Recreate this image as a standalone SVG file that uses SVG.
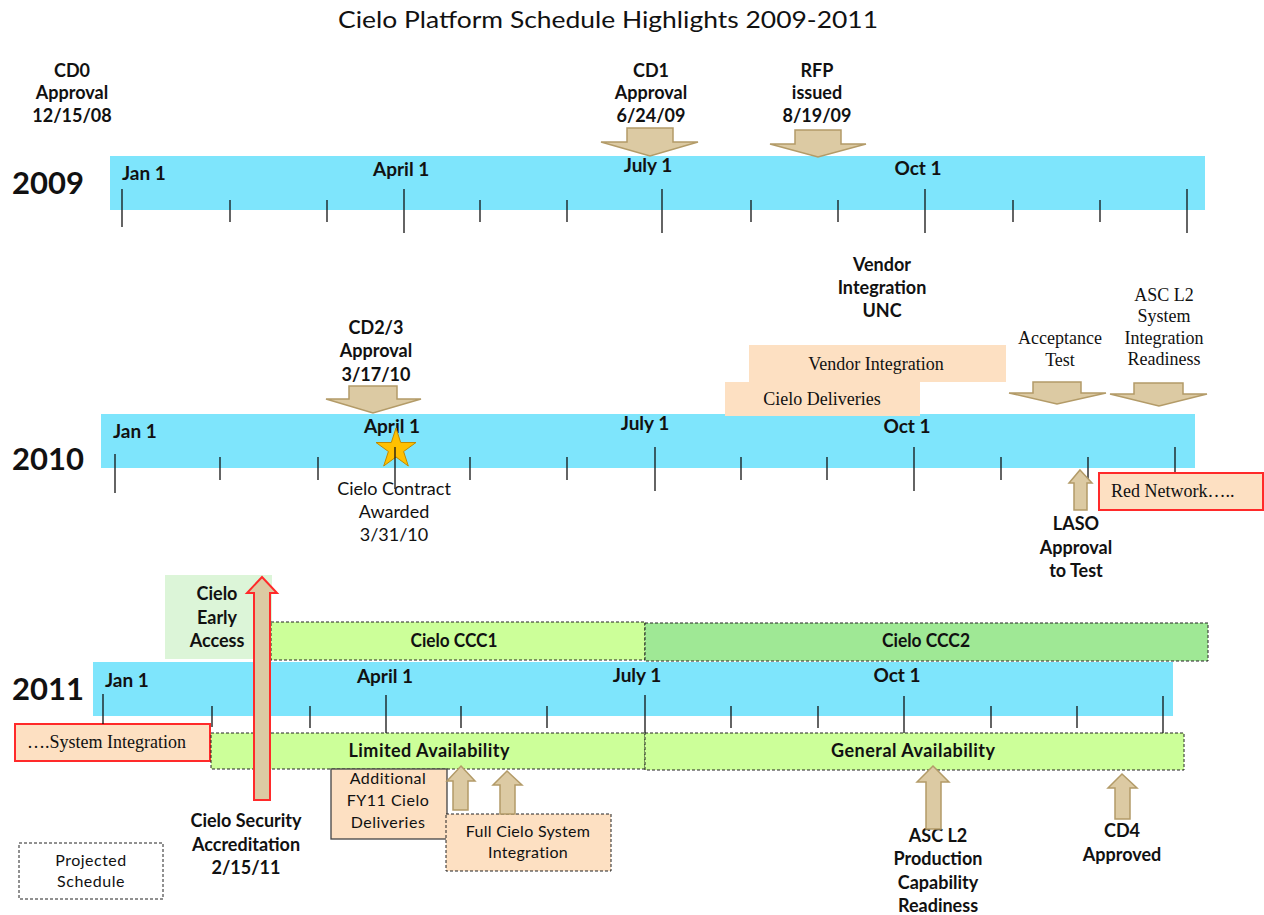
<svg xmlns="http://www.w3.org/2000/svg" width="1264" height="915" viewBox="0 0 1264 915">
<style>
.t{font-family:Lato,"Open Sans","Liberation Sans",sans-serif;fill:#111}
.b{font-weight:bold}
.s{font-family:"Liberation Serif","DejaVu Serif",serif;fill:#111;font-size:18px}
.year{font-size:31px;font-weight:bold}
.lbl{font-size:19px;font-weight:bold}
.bx{font-size:18px;font-weight:bold}
.ms{font-size:18px;font-weight:bold}
.bar{fill:#7ee5fc}
.tick{stroke:#111;stroke-width:1.3}
.arrow{fill:#dccaa3;stroke:#b39b68;stroke-width:1.5}
.peach{fill:#fde0c2}
.red{stroke:#ff2a2a;stroke-width:2}
.dash{stroke:#222;stroke-width:1;stroke-dasharray:3,2}
.lg{fill:#ccff99}
.dg{fill:#9fe895}
</style>

<text class="t" x="608" y="28" font-size="23" text-anchor="middle" textLength="540" lengthAdjust="spacingAndGlyphs">Cielo Platform Schedule Highlights 2009-2011</text>

<!-- 2009 -->
<g id="row2009">
<rect class="bar" x="110" y="156" width="1095" height="54"/>
<text class="t year" x="12" y="194">2009</text>
<text class="t lbl" x="122" y="180">Jan 1</text>
<text class="t lbl" x="373" y="176">April 1</text>
<text class="t lbl" x="648" y="172" text-anchor="middle">July 1</text>
<text class="t lbl" x="918" y="175" text-anchor="middle">Oct 1</text>
<g class="tick">
<line x1="122" y1="189" x2="122" y2="227"/>
<line x1="230" y1="200" x2="230" y2="222"/>
<line x1="327" y1="200" x2="327" y2="222"/>
<line x1="404" y1="189" x2="404" y2="233"/>
<line x1="480" y1="200" x2="480" y2="222"/>
<line x1="567" y1="200" x2="567" y2="222"/>
<line x1="662" y1="189" x2="662" y2="233"/>
<line x1="751" y1="200" x2="751" y2="222"/>
<line x1="838" y1="200" x2="838" y2="222"/>
<line x1="925" y1="189" x2="925" y2="233"/>
<line x1="1013" y1="200" x2="1013" y2="222"/>
<line x1="1100" y1="200" x2="1100" y2="222"/>
<line x1="1187" y1="189" x2="1187" y2="233"/>
</g>
</g>
<g id="cd0">
<text class="t ms" text-anchor="middle"><tspan x="72" y="77">CD0</tspan><tspan x="72" y="99">Approval</tspan><tspan x="72" y="122">12/15/08</tspan></text>
</g>
<g id="cd1">
<text class="t ms" text-anchor="middle"><tspan x="651" y="77">CD1</tspan><tspan x="651" y="99">Approval</tspan><tspan x="651" y="122">6/24/09</tspan></text>
</g>
<g id="rfp">
<text class="t ms" text-anchor="middle"><tspan x="817" y="77">RFP</tspan><tspan x="817" y="99">issued</tspan><tspan x="817" y="122">8/19/09</tspan></text>
</g>

<!-- 2010 -->
<g id="row2010">
<rect class="bar" x="101" y="414" width="1094" height="54"/>
<text class="t year" x="12" y="470">2010</text>
<text class="t lbl" x="113" y="438">Jan 1</text>
<text class="t lbl" x="392" y="433" text-anchor="middle">April 1</text>
<text class="t lbl" x="645" y="430" text-anchor="middle">July 1</text>
<text class="t lbl" x="907" y="433" text-anchor="middle">Oct 1</text>
</g>
<g id="vendor-integration">
<rect class="peach" x="749" y="345" width="257" height="37"/>
<text class="s" x="876" y="370" text-anchor="middle">Vendor Integration</text>
</g>
<g id="cielo-deliveries">
<rect class="peach" x="725" y="382" width="195" height="34"/>
<text class="s" x="822" y="405" text-anchor="middle">Cielo Deliveries</text>
</g>
<g id="star">
<polygon points="396,428 400.7,442.5 416,442.5 403.6,451.5 408.3,466 396,457 383.7,466 388.4,451.5 376,442.5 391.3,442.5" fill="#ffc000" stroke="#c08a00" stroke-width="1"/>
</g>
<g class="tick">
<line x1="115" y1="454" x2="115" y2="493"/>
<line x1="220" y1="457" x2="220" y2="480"/>
<line x1="318" y1="457" x2="318" y2="480"/>
<line x1="395" y1="447" x2="395" y2="489"/>
<line x1="470" y1="457" x2="470" y2="480"/>
<line x1="567" y1="457" x2="567" y2="480"/>
<line x1="655" y1="447" x2="655" y2="491"/>
<line x1="741" y1="457" x2="741" y2="480"/>
<line x1="827" y1="457" x2="827" y2="480"/>
<line x1="914" y1="447" x2="914" y2="491"/>
<line x1="1001" y1="457" x2="1001" y2="480"/>
<line x1="1088" y1="457" x2="1088" y2="480"/>
<line x1="1175" y1="447" x2="1175" y2="473"/>
</g>
<g id="cd23">
<text class="t ms" text-anchor="middle"><tspan x="376" y="334">CD2/3</tspan><tspan x="376" y="357">Approval</tspan><tspan x="376" y="381">3/17/10</tspan></text>
</g>
<g id="contract">
<text class="t" font-size="18" text-anchor="middle"><tspan x="394" y="495">Cielo Contract</tspan><tspan x="394" y="518">Awarded</tspan><tspan x="394" y="541">3/31/10</tspan></text>
</g>
<g id="vendor-unc">
<text class="t ms" text-anchor="middle" font-size="19"><tspan x="882" y="271">Vendor</tspan><tspan x="882" y="294">Integration</tspan><tspan x="882" y="317">UNC</tspan></text>
</g>
<g id="acceptance">
<text class="s" text-anchor="middle"><tspan x="1060" y="344">Acceptance</tspan><tspan x="1060" y="366">Test</tspan></text>
</g>
<g id="asc-sys">
<text class="s" text-anchor="middle"><tspan x="1164" y="301">ASC L2</tspan><tspan x="1164" y="322">System</tspan><tspan x="1164" y="344">Integration</tspan><tspan x="1164" y="365">Readiness</tspan></text>
</g>
<g id="laso">
<text class="t ms" text-anchor="middle"><tspan x="1076" y="530">LASO</tspan><tspan x="1076" y="554">Approval</tspan><tspan x="1076" y="577">to Test</tspan></text>
</g>
<g id="red-network">
<rect class="peach red" x="1099" y="473" width="164" height="37"/>
<text class="s" x="1111" y="497">Red Network…..</text>
</g>

<!-- 2011 -->
<g id="early-access">
<rect x="165" y="575" width="107" height="84" fill="#dcf5d8"/>
<text class="t ms" text-anchor="middle"><tspan x="217" y="600">Cielo</tspan><tspan x="217" y="624">Early</tspan><tspan x="217" y="647">Access</tspan></text>
</g>
<g id="ccc1">
<rect class="lg dash" x="271" y="622" width="374" height="38"/>
<text class="t bx" x="454" y="647" text-anchor="middle" textLength="87" lengthAdjust="spacingAndGlyphs">Cielo CCC1</text>
</g>
<g id="ccc2">
<rect class="dg dash" x="645" y="623" width="563" height="38"/>
<text class="t bx" x="926" y="647" text-anchor="middle" textLength="88" lengthAdjust="spacingAndGlyphs">Cielo CCC2</text>
</g>
<g id="row2011">
<rect class="bar" x="93" y="662" width="1080" height="54"/>
<text class="t year" x="12" y="700">2011</text>
<text class="t lbl" x="105" y="687">Jan 1</text>
<text class="t lbl" x="385" y="683" text-anchor="middle">April 1</text>
<text class="t lbl" x="637" y="682" text-anchor="middle">July 1</text>
<text class="t lbl" x="897" y="682" text-anchor="middle">Oct 1</text>
</g>
<g id="system-integration">
<rect class="peach red" x="15" y="724" width="195" height="37"/>
<text class="s" x="27" y="748">….System Integration</text>
</g>
<g id="limited">
<rect class="lg dash" x="211" y="733" width="434" height="36"/>
<text class="t bx" x="429" y="757" text-anchor="middle" textLength="161" lengthAdjust="spacing">Limited Availability</text>
</g>
<g id="general">
<rect class="lg dash" x="645" y="733" width="539" height="37"/>
<text class="t bx" x="913" y="757" text-anchor="middle" textLength="164" lengthAdjust="spacing">General Availability</text>
</g>
<g class="tick">
<line x1="103" y1="694" x2="103" y2="724"/>
<line x1="212" y1="706" x2="212" y2="727"/>
<line x1="310" y1="706" x2="310" y2="728"/>
<line x1="386" y1="695" x2="386" y2="733"/>
<line x1="461" y1="706" x2="461" y2="728"/>
<line x1="547" y1="706" x2="547" y2="728"/>
<line x1="645" y1="695" x2="645" y2="733"/>
<line x1="731" y1="706" x2="731" y2="728"/>
<line x1="818" y1="706" x2="818" y2="728"/>
<line x1="904" y1="696" x2="904" y2="733"/>
<line x1="991" y1="706" x2="991" y2="728"/>
<line x1="1077" y1="706" x2="1077" y2="728"/>
<line x1="1163" y1="696" x2="1163" y2="733"/>
</g>
<g id="additional">
<rect class="peach" x="331" y="769" width="116" height="70" stroke="#444" stroke-width="1.3"/>
<text class="t" font-size="16" text-anchor="middle" letter-spacing="0.5"><tspan x="388" y="784">Additional</tspan><tspan x="388" y="806">FY11 Cielo</tspan><tspan x="388" y="828">Deliveries</tspan></text>
</g>
<g id="full-integration">
<rect class="peach dash" x="446" y="814" width="165" height="57"/>
<text class="t" font-size="16" text-anchor="middle" letter-spacing="0.3"><tspan x="528" y="837">Full Cielo System</tspan><tspan x="528" y="858">Integration</tspan></text>
</g>
<g id="security">
<text class="t ms" text-anchor="middle"><tspan x="246" y="827">Cielo Security</tspan><tspan x="246" y="851">Accreditation</tspan><tspan x="246" y="874">2/15/11</tspan></text>
</g>
<g id="asc-prod">
<text class="t ms" text-anchor="middle"><tspan x="938" y="842">ASC L2</tspan><tspan x="938" y="865">Production</tspan><tspan x="938" y="889">Capability</tspan><tspan x="938" y="912">Readiness</tspan></text>
</g>
<g id="cd4">
<text class="t ms" text-anchor="middle"><tspan x="1122" y="837">CD4</tspan><tspan x="1122" y="861">Approved</tspan></text>
</g>
<g id="legend">
<rect x="19" y="843" width="144" height="56" fill="#fff" class="dash"/>
<text class="t" font-size="16" text-anchor="middle" letter-spacing="0.5"><tspan x="91" y="866">Projected</tspan><tspan x="91" y="887">Schedule</tspan></text>
</g>

<g id="connectors">
<path class="arrow" d="M627,128 L673,128 L673,142 L698,142 L650,156 L601,142 L627,142 Z"/>
<path class="arrow" d="M795,130 L841,130 L841,144 L866,144 L818,157 L770,144 L795,144 Z"/>
<path class="arrow" d="M349,386 L397,386 L397,399 L421,399 L373,413 L326,399 L349,399 Z"/>
<path class="arrow" d="M1033,382 L1081,382 L1081,393 L1106,393 L1057,404 L1009,393 L1033,393 Z"/>
<path class="arrow" d="M1134,383 L1183,383 L1183,394 L1207,394 L1159,406 L1110,394 L1134,394 Z"/>
<path class="arrow" d="M1080,470 L1092,483 L1087,483 L1087,510 L1074,510 L1074,483 L1069,483 Z"/>
<path class="arrow red" d="M262,577 L277,593 L270,593 L270,800 L254,800 L254,593 L247,593 Z"/>
<path class="arrow" d="M461,766 L475,781 L468,781 L468,810 L453,810 L453,781 L447,781 Z"/>
<path class="arrow" d="M507,771 L522,785 L515,785 L515,814 L500,814 L500,785 L493,785 Z"/>
<path class="arrow" d="M933,766 L949,782 L941,782 L941,829 L926,829 L926,782 L917,782 Z"/>
<path class="arrow" d="M1122,774 L1137,788 L1130,788 L1130,819 L1115,819 L1115,788 L1108,788 Z"/>
</g>
</svg>
